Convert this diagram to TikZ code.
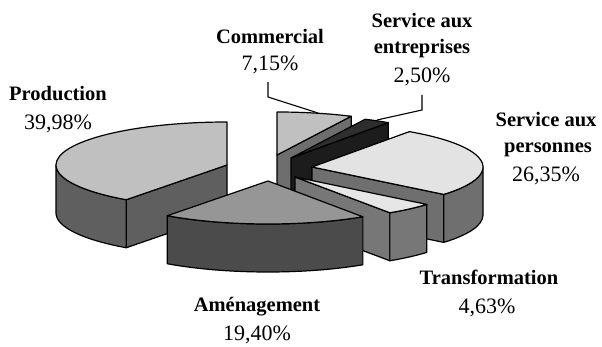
\documentclass[tikz,border=0pt]{standalone}
\usepackage{fontspec}
\setmainfont{Liberation Serif}
\usetikzlibrary{calc}
\def\pieRx{171}
\def\pieRy{43}
\def\pieH{48}
\newcommand\sliceTop[5]{%
  \filldraw[slicepen,fill=#5] (#1,-#2) -- ++({\pieRx*cos(#3)},{\pieRy*sin(#3)})
    arc[start angle=#3,end angle=#4,x radius=\pieRx,y radius=\pieRy] -- cycle;}
\newcommand\sliceSide[5]{%
  \filldraw[slicepen,fill=#5] ($(#1,-#2)+({\pieRx*cos(#3)},{\pieRy*sin(#3)})$)
    arc[start angle=#3,end angle=#4,x radius=\pieRx,y radius=\pieRy] -- ++(0,-\pieH)
    arc[start angle=#4,end angle=#3,x radius=\pieRx,y radius=\pieRy] -- cycle;}
\newcommand\sliceFace[4]{%
  \filldraw[slicepen,fill=#4] (#1,-#2) -- ++({\pieRx*cos(#3)},{\pieRy*sin(#3)})
    -- ++(0,-\pieH) -- ++({-\pieRx*cos(#3)},{-\pieRy*sin(#3)}) -- cycle;}
\definecolor{prodtop}{HTML}{C0C0C0}
\definecolor{prodside}{HTML}{5F5F5F}
\definecolor{amentop}{HTML}{969696}
\definecolor{amenside}{HTML}{4B4B4B}
\definecolor{comtop}{HTML}{C0C0C0}
\definecolor{comside}{HTML}{6E6E6E}
\definecolor{enttop}{HTML}{2E2E2E}
\definecolor{entside}{HTML}{1C1C1C}
\definecolor{pertop}{HTML}{E3E3E3}
\definecolor{perside}{HTML}{6F6F6F}
\definecolor{trtop}{HTML}{E6E6E6}
\definecolor{trside}{HTML}{777777}
\begin{document}
\begin{tikzpicture}[x=1pt,y=1pt,
  slicepen/.style={draw=black,line width=1.2pt,line join=round},
  namelbl/.style={anchor=base,inner sep=0pt,font=\fontsize{20.5}{24}\selectfont\bfseries},
  pctlbl/.style={anchor=base,inner sep=0pt,font=\fontsize{22}{26}\selectfont},
  leader/.style={draw=black,line width=1.1pt}]
\useasboundingbox (0,0) rectangle (602,-347);
% Commercial
\sliceFace{277}{155}{64.3}{comside}
\sliceTop{277}{155}{64.3}{90}{comtop}
% Service aux entreprises
\sliceFace{291}{158}{55.3}{entside}
\sliceTop{291}{158}{55.3}{64.3}{enttop}
% Service aux personnes
\sliceFace{312}{167}{-39.6}{perside}
\sliceSide{312}{167}{-39.6}{0}{perside}
\sliceTop{312}{167}{-39.6}{55.3}{pertop}
% Production
\sliceFace{227}{165}{233.9}{prodside}
\sliceSide{227}{165}{180}{233.9}{prodside}
\sliceTop{227}{165}{90}{233.9}{prodtop}
% Transformation
\sliceFace{295}{177}{-56.3}{trside}
\sliceSide{295}{177}{-56.3}{-39.6}{trside}
\sliceTop{295}{177}{-56.3}{-39.6}{trtop}
% Amenagement
\sliceSide{268}{181}{-126.1}{-56.3}{amenside}
\sliceTop{268}{181}{-126.1}{-56.3}{amentop}
% labels
\node[namelbl] (comname) at (270,-44) {Commercial};
\node[pctlbl] (compct) at (270,-71) {7,15\%};
\node[namelbl] (entname1) at (422,-28) {Service aux};
\node[namelbl] (entname2) at (422,-54) {entreprises};
\node[pctlbl] (entpct) at (422,-83) {2,50\%};
\node[namelbl] (pername1) at (546,-127) {Service aux};
\node[namelbl] (pername2) at (548,-153) {personnes};
\node[pctlbl] (perpct) at (546,-182) {26,35\%};
\node[namelbl] (prodname) at (58,-101) {Production};
\node[pctlbl] (prodpct) at (58,-130) {39,98\%};
\node[namelbl] (trname) at (489,-284) {Transformation};
\node[pctlbl] (trpct) at (487,-313) {4,63\%};
\node[namelbl] (amenname) at (257,-311) {Aménagement};
\node[pctlbl] (amenpct) at (257,-340) {19,40\%};
% leaders
\coordinate (comstart) at (268,-82);
\coordinate (combend) at (268,-97);
\coordinate (comtip) at (318,-113);
\coordinate (entstart) at (422,-95);
\coordinate (entbend) at (422,-110);
\coordinate (enttip) at (377,-120);
\draw[leader] (comstart) -- (combend) -- (comtip);
\draw[leader] (entstart) -- (entbend) -- (enttip);
\end{tikzpicture}
\end{document}
